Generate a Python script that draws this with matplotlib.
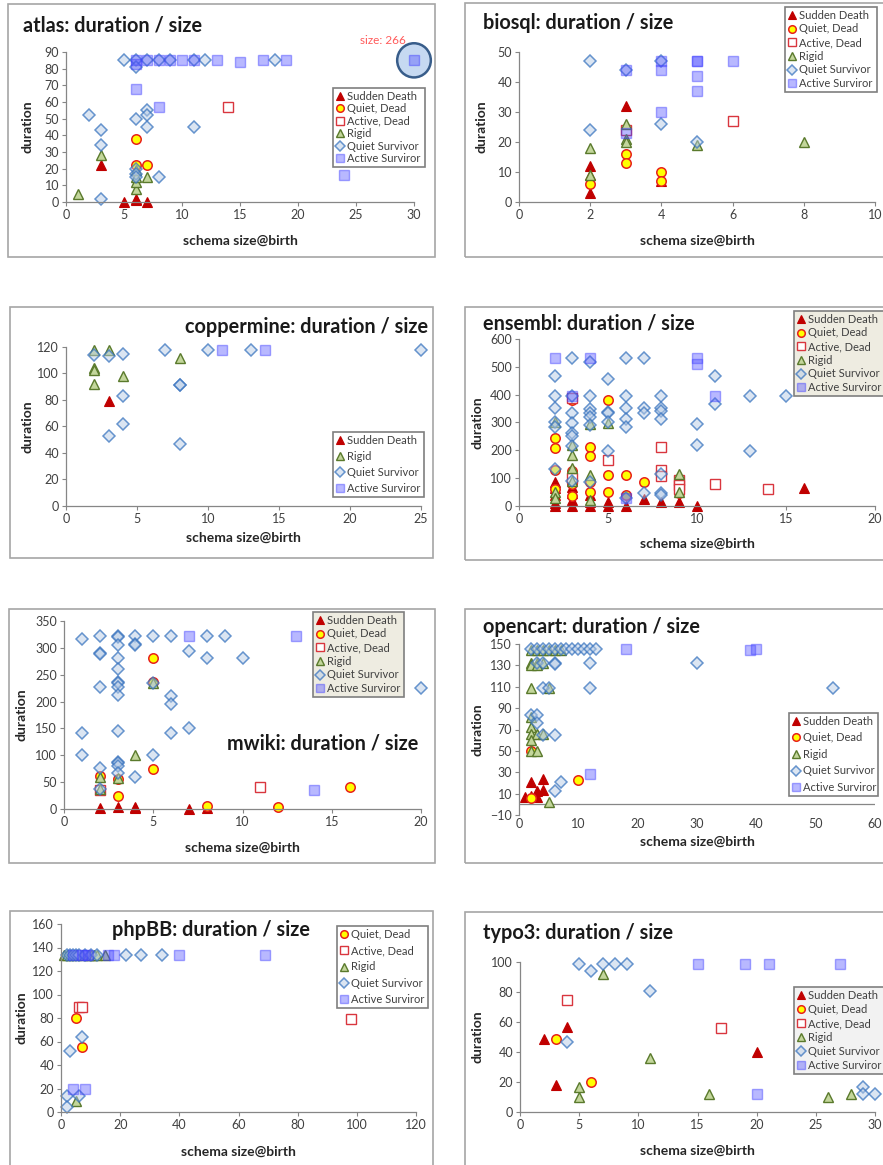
import numpy as np
import matplotlib
matplotlib.use("Agg")
import matplotlib.pyplot as plt
from matplotlib.patches import Rectangle, Ellipse

plt.rcParams['font.family'] = ['Lato', 'DejaVu Sans']

W, H = 883, 1165

# ---- data: (schema size@birth, duration) per category ----
atlas_sudden = [(3, 22), (5, 0), (6, 1), (6, 2), (7, 0)]
atlas_quiet_dead = [(6, 38), (6, 22), (7, 22)]
atlas_active_dead = [(14, 57)]
atlas_rigid = [(1, 5), (3, 28), (6, 8), (6, 12), (6, 15), (6, 19), (7, 15)]
atlas_quiet_surv = [(2, 52), (3, 43), (3, 34), (3, 2), (5, 85), (6, 85), (6, 81), (6, 50), (6, 20),
                    (6, 17), (6, 15), (7, 85), (7, 55), (7, 52), (7, 45), (8, 85), (8, 15), (9, 85),
                    (11, 85), (11, 45), (12, 85), (18, 85)]
atlas_active_surv = [(6, 85), (6, 83), (6, 68), (7, 85), (8, 85), (8, 57), (9, 85), (10, 85), (11, 85),
                     (13, 85), (15, 84), (17, 85), (19, 85), (24, 16), (30, 85)]

bio_sudden = [(2, 3), (2, 9), (2, 12), (3, 32), (4, 7)]
bio_quiet_dead = [(2, 6), (3, 16), (3, 13), (4, 10), (4, 7)]
bio_active_dead = [(3, 24), (6, 27)]
bio_rigid = [(2, 18), (2, 9), (3, 26), (3, 21), (3, 20), (5, 19), (8, 20)]
bio_quiet_surv = [(2, 47), (2, 24), (3, 44), (4, 47), (4, 26), (5, 20)]
bio_active_surv = [(3, 44), (3, 23), (4, 47), (4, 44), (4, 30), (5, 47), (5, 47), (5, 42), (5, 37), (6, 47)]

cop_sudden = [(3, 79)]
cop_rigid = [(2, 118), (2, 104), (2, 103), (2, 92), (3, 118), (4, 98), (8, 112)]
cop_quiet_surv = [(2, 114), (3, 113), (3, 53), (4, 115), (4, 83), (4, 62), (7, 118), (8, 91), (8, 91),
                  (8, 47), (10, 118), (13, 118), (25, 118)]
cop_active_surv = [(11, 118), (14, 118)]

ens_sudden = [(2, 85), (2, 65), (2, 40), (2, 10), (2, 0), (3, 70), (3, 45), (3, 20), (3, 0), (4, 40),
              (4, 15), (4, 0), (5, 15), (5, 0), (6, 0), (7, 25), (8, 15), (9, 15), (10, 0), (16, 65)]
ens_quiet_dead = [(2, 245), (2, 208), (2, 128), (2, 60), (3, 380), (3, 125), (3, 80), (3, 35), (4, 212),
                  (4, 178), (4, 85), (4, 50), (5, 382), (5, 110), (5, 52), (6, 110), (6, 38), (7, 88), (9, 48)]
ens_active_dead = [(3, 388), (3, 100), (5, 165), (8, 212), (8, 130), (8, 108), (9, 95), (9, 75), (9, 60),
                   (11, 80), (14, 62)]
ens_rigid = [(2, 300), (2, 50), (2, 30), (3, 220), (3, 185), (3, 135), (3, 90), (4, 295), (4, 112), (4, 20),
             (5, 298), (9, 115), (9, 50)]
ens_quiet_surv = [(2, 467), (2, 395), (2, 352), (2, 300), (2, 285), (2, 132),
                  (3, 530), (3, 395), (3, 334), (3, 299), (3, 263), (3, 250), (3, 216), (3, 90),
                  (4, 518), (4, 395), (4, 350), (4, 335), (4, 320), (4, 290), (4, 85),
                  (5, 455), (5, 338), (5, 335), (5, 300), (5, 198),
                  (6, 530), (6, 395), (6, 353), (6, 312), (6, 283), (6, 30),
                  (7, 530), (7, 353), (7, 333), (7, 48),
                  (8, 395), (8, 353), (8, 340), (8, 313), (8, 115), (8, 48), (8, 38),
                  (10, 296), (10, 218), (11, 467), (11, 365), (13, 395), (13, 197), (15, 395)]
ens_active_surv = [(2, 530), (3, 395), (4, 530), (6, 30), (10, 530), (10, 510), (11, 395)]

mw_sudden = [(2, 2), (3, 3), (4, 4), (4, 2), (7, 0), (8, 2)]
mw_quiet_dead = [(2, 62), (3, 56), (3, 25), (5, 281), (5, 236), (5, 75), (8, 5), (12, 3), (16, 41)]
mw_active_dead = [(2, 35), (11, 41)]
mw_rigid = [(2, 60), (2, 38), (3, 58), (4, 100), (5, 234)]
mw_quiet_surv = [(1, 316), (1, 142), (1, 100), (2, 322), (2, 290), (2, 289), (2, 228), (2, 76), (2, 38),
                 (3, 322), (3, 320), (3, 305), (3, 281), (3, 261), (3, 237), (3, 235), (3, 228), (3, 212),
                 (3, 145), (3, 88), (3, 85), (3, 80), (3, 67), (4, 322), (4, 307), (4, 305), (4, 59),
                 (5, 322), (5, 234), (5, 100), (6, 322), (6, 211), (6, 196), (6, 142), (7, 295), (7, 151),
                 (8, 322), (8, 281), (9, 322), (10, 281), (20, 225)]
mw_active_surv = [(7, 322), (13, 322), (14, 35)]

oc_sudden = [(1, 7), (2, 21), (2, 8), (3, 12), (3, 7), (4, 24), (4, 13)]
oc_quiet_dead = [(2, 50), (2, 6), (10, 23)]
oc_rigid = [(2, 144), (3, 144), (4, 144), (5, 144), (6, 144), (7, 144), (2, 132), (3, 132), (4, 132),
            (2, 130), (3, 130), (2, 109), (5, 109), (2, 82), (2, 72), (2, 66), (3, 66), (4, 66), (2, 60),
            (2, 50), (3, 50), (5, 2)]
oc_quiet_surv = [(2, 145), (3, 145), (4, 145), (5, 145), (6, 145), (7, 145), (8, 145), (9, 145), (10, 145),
                 (11, 145), (12, 145), (13, 145), (3, 132), (4, 132), (6, 132), (6, 131), (12, 132),
                 (30, 132), (4, 109), (5, 109), (12, 109), (53, 109), (2, 84), (3, 84), (3, 76), (4, 65),
                 (6, 65), (7, 21), (6, 12)]
oc_active_surv = [(18, 145), (39, 144), (40, 145), (12, 28)]

php_quiet_dead = [(5, 80), (7, 55)]
php_active_dead = [(6, 89), (7, 89), (98, 79)]
php_rigid = [(1, 134), (2, 134), (3, 134), (5, 134), (7, 134), (9, 134), (10, 134), (11, 134), (12, 134),
             (15, 134), (5, 9)]
php_quiet_surv = [(2, 134), (3, 134), (4, 134), (5, 134), (6, 134), (8, 134), (10, 134), (12, 134),
                  (22, 134), (27, 134), (34, 134), (7, 64), (3, 52), (2, 14), (6, 14), (2, 4)]
php_active_surv = [(4, 134), (7, 134), (8, 134), (9, 134), (16, 134), (18, 134), (40, 134), (69, 134),
                   (4, 20), (8, 20)]

ty_sudden = [(2, 49), (3, 18), (4, 57), (20, 40)]
ty_quiet_dead = [(3, 49), (6, 20)]
ty_active_dead = [(4, 75), (17, 56)]
ty_rigid = [(5, 17), (5, 10), (7, 92), (11, 36), (16, 12), (26, 10), (28, 12)]
ty_quiet_surv = [(4, 47), (5, 99), (6, 94), (7, 99), (8, 99), (9, 99), (11, 81), (29, 17), (29, 12), (30, 12)]
ty_active_surv = [(15, 99), (19, 99), (21, 99), (27, 99), (20, 12)]

# ---- marker styles ----
STYLES = {
    "Sudden Death": dict(marker='^', ms=7, mfc='#C00000', mec='#C00000', mew=0.8),
    "Quiet, Dead": dict(marker='o', ms=6.8, mfc='#FFFF00', mec='#E8201A', mew=1.1),
    "Active, Dead": dict(marker='s', ms=7, mfc='white', mec='#D9363E', mew=1.0),
    "Rigid": dict(marker='^', ms=7, mfc='#C3D69B', mec='#5A7A2C', mew=1.0),
    "Quiet Survivor": dict(marker='D', ms=5.8, mfc=(0.72, 0.80, 0.90, 0.5), mec=(0.22, 0.45, 0.75, 0.75), mew=1.1),
    "Active Surviror": dict(marker='s', ms=7.3, mfc=(0.31, 0.31, 1.0, 0.4), mec=(0.25, 0.25, 1.0, 0.45), mew=1.0),
}


def fx(px):
    return px / W


def fy(py):
    return 1 - py / H


def panel(frame, box, xlim, xstep, ylim, ystep, series, title, title_xy, title_ha,
          leg, leg_bg, leg_ls, ylab_off, xlab_off):
    fig.add_artist(Rectangle((fx(frame[0]), fy(frame[3])), fx(frame[2] - frame[0]),
                             (frame[3] - frame[1]) / H, transform=fig.transFigure,
                             fill=False, edgecolor='#A6A6A6', lw=1.2))
    left, top, right, bottom = box
    ax = fig.add_axes([fx(left), fy(bottom), fx(right - left), (bottom - top) / H])
    for name, pts in series:
        xs = [p[0] for p in pts]
        ys = [p[1] for p in pts]
        ax.plot(xs, ys, ls='none', label=name, clip_on=False, **STYLES[name])
    ax.set_xlim(*xlim)
    ax.set_ylim(*ylim)
    ax.set_xticks(np.arange(xlim[0], xlim[1] + 0.01, xstep))
    ax.set_yticks(np.arange(ylim[0], ylim[1] + 0.01, ystep))
    for s in ['top', 'right']:
        ax.spines[s].set_visible(False)
    for s in ['left', 'bottom']:
        ax.spines[s].set_color('#868686')
        ax.spines[s].set_linewidth(0.9)
    ax.tick_params(direction='out', length=3, width=0.8, color='#868686',
                   labelcolor='#404040', labelsize=9, pad=2)
    ax.set_xlabel("schema size@birth", fontsize=10, fontweight='bold', color='#262626')
    ax.set_ylabel("duration", fontsize=10, fontweight='bold', color='#262626')
    ax.xaxis.set_label_coords(0.5, -(xlab_off - 6) / (bottom - top))
    ax.yaxis.set_label_coords(-(ylab_off - 6) / (right - left), 0.5)
    ax.patch.set_alpha(0)
    fig.text(fx(title_xy[0]), fy(title_xy[1]), title, fontsize=14.3, fontweight='bold',
             ha=title_ha, va='center', color='#1A1A1A')
    lg = ax.legend(loc='upper left', bbox_to_anchor=(fx(leg[0]), fy(leg[1]), fx(leg[2]), 0),
                   bbox_transform=fig.transFigure, mode='expand', fontsize=8,
                   frameon=True, fancybox=False, borderpad=0.25, handlelength=0.7,
                   handletextpad=0.3, labelspacing=leg_ls, borderaxespad=0, markerscale=0.8)
    lg.get_frame().set_edgecolor('#7F7F7F')
    lg.get_frame().set_linewidth(1.2)
    lg.get_frame().set_facecolor(leg_bg)
    lg.get_frame().set_alpha(1)
    for t in lg.get_texts():
        t.set_color('#404040')
    return ax


fig = plt.figure(figsize=(W / 100, H / 100), dpi=100)

# atlas
ax = panel((8, 4, 435, 257), (66, 52, 414, 202), (0, 30), 5, (0, 90), 10,
           [("Sudden Death", atlas_sudden), ("Quiet, Dead", atlas_quiet_dead),
            ("Active, Dead", atlas_active_dead), ("Rigid", atlas_rigid),
            ("Quiet Survivor", atlas_quiet_surv), ("Active Surviror", atlas_active_surv)],
           "atlas: duration / size", (23, 26), 'left', (333, 88, 92), 'white', 0.13, 38, 39)
ax.add_patch(Ellipse((30, 85), 2.9, 20.5, facecolor='#C6D9F1', edgecolor='#385D8A',
                     lw=1.8, clip_on=False, zorder=1))
fig.text(fx(383), fy(40), "size: 266", fontsize=8.5, color='#FF5B5B', ha='center', va='center')

# biosql
panel((465, 3, 890, 257), (519, 52, 875, 202), (0, 10), 2, (0, 50), 10,
      [("Sudden Death", bio_sudden), ("Quiet, Dead", bio_quiet_dead),
       ("Active, Dead", bio_active_dead), ("Rigid", bio_rigid),
       ("Quiet Survivor", bio_quiet_surv), ("Active Surviror", bio_active_surv)],
      "biosql: duration / size", (483, 23), 'left', (785, 7, 92), 'white', 0.24, 38, 39)

# coppermine
panel((10, 307, 433, 558), (66, 347, 421, 506), (0, 25), 5, (0, 120), 20,
      [("Sudden Death", cop_sudden), ("Rigid", cop_rigid),
       ("Quiet Survivor", cop_quiet_surv), ("Active Surviror", cop_active_surv)],
      "coppermine: duration / size", (428, 327), 'right', (333, 432, 91), 'white', 0.45, 39, 32)

# ensembl
panel((465, 307, 890, 560), (519, 339, 875, 506), (0, 20), 5, (0, 600), 100,
      [("Sudden Death", ens_sudden), ("Quiet, Dead", ens_quiet_dead),
       ("Active, Dead", ens_active_dead), ("Rigid", ens_rigid),
       ("Quiet Survivor", ens_quiet_surv), ("Active Surviror", ens_active_surv)],
      "ensembl: duration / size", (483, 324), 'left', (794, 311, 92), '#EEECE1', 0.24, 42, 38)

# mwiki
panel((9, 609, 435, 863), (64, 621, 421, 809), (0, 20), 5, (0, 350), 50,
      [("Sudden Death", mw_sudden), ("Quiet, Dead", mw_quiet_dead),
       ("Active, Dead", mw_active_dead), ("Rigid", mw_rigid),
       ("Quiet Survivor", mw_quiet_surv), ("Active Surviror", mw_active_surv)],
      "mwiki: duration / size", (227, 743), 'left', (313, 612, 91), '#EEECE1', 0.24, 42, 39)

# opencart
ax = panel((465, 609, 890, 863), (519, 644, 875, 815), (0, 60), 10, (-10, 150), 20,
           [("Sudden Death", oc_sudden), ("Quiet, Dead", oc_quiet_dead), ("Rigid", oc_rigid),
            ("Quiet Survivor", oc_quiet_surv), ("Active Surviror", oc_active_surv)],
           "opencart: duration / size", (483, 627), 'left', (789, 713, 89), 'white', 0.5, 42, 27)
ax.spines['bottom'].set_visible(False)
ax.tick_params(axis='x', length=0)
ax.axhline(0, color='#868686', lw=0.9, zorder=0)

# phpBB
panel((10, 911, 433, 1175), (61, 924, 416, 1112), (0, 120), 20, (0, 160), 20,
      [("Quiet, Dead", php_quiet_dead), ("Active, Dead", php_active_dead), ("Rigid", php_rigid),
       ("Quiet Survivor", php_quiet_surv), ("Active Surviror", php_active_surv)],
      "phpBB: duration / size", (112, 930), 'left', (337, 926, 91), 'white', 0.48, 39, 40)

# typo3
panel((465, 912, 890, 1175), (520, 962, 875, 1112), (0, 30), 5, (0, 100), 20,
      [("Sudden Death", ty_sudden), ("Quiet, Dead", ty_quiet_dead),
       ("Active, Dead", ty_active_dead), ("Rigid", ty_rigid),
       ("Quiet Survivor", ty_quiet_surv), ("Active Surviror", ty_active_surv)],
      "typo3: duration / size", (483, 933), 'left', (794, 987, 92), '#F2F2F2', 0.28, 43, 39)

fig.savefig("out.png", dpi=100)
